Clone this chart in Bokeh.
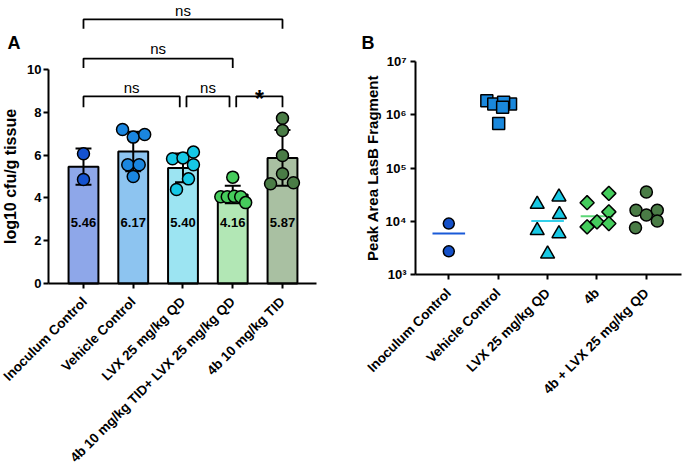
import numpy as np
from bokeh.plotting import figure
from bokeh.layouts import row
from bokeh.models import FixedTicker, Range1d
from bokeh.embed import file_html
from bokeh.resources import INLINE
from bokeh.core.properties import value

FONT = "Liberation Sans"

# ---------------- Panel A data ----------------
cats_a = ["Inoculum Control", "Vehicle Control", "LVX 25 mg/kg QD",
          "4b 10 mg/kg TID+ LVX 25 mg/kg QD", "4b 10 mg/kg TID"]
means_a = [5.46, 6.17, 5.40, 4.16, 5.87]
mean_labels_a = ["5.46", "6.17", "5.40", "4.16", "5.87"]
pts_inoc = [6.06, 4.86]
pts_veh = [7.20, 6.84, 6.96, 5.55, 5.55, 5.00]
pts_lvx = [5.83, 5.87, 6.14, 5.55, 4.89, 4.39]
pts_combo = [4.97, 4.05, 4.05, 4.08, 4.05, 3.78]
pts_4b = [7.72, 7.15, 5.98, 5.13, 4.66, 4.71]
groups_a = [pts_inoc, pts_veh, pts_lvx, pts_combo, pts_4b]
# horizontal scatter of the dots (fraction of category spacing)
jit_a = [[0, 0],
         [-0.215, 0, 0.23, -0.11, 0.12, 0],
         [-0.21, 0, 0.21, 0.21, 0.11, -0.13],
         [0, -0.24, -0.11, 0.03, 0.16, 0.26],
         [0, 0, 0, 0, -0.24, 0.22]]
bar_colors = ["#8ea7e9", "#8dc4f0", "#9ce4f2", "#b2e7b5", "#a9c0a2"]
dot_colors = ["#1452d0", "#1a86e0", "#16c8e6", "#46cc5c", "#4a7c46"]
# significance comparisons: (group i, group j, text)
comparisons = [(0, 4, "ns"), (0, 3, "ns"), (0, 2, "ns"), (2, 3, "ns"), (3, 4, "*")]
bracket_levels = [12.34, 10.51, 8.74, 8.74, 8.74]

# ---------------- Panel B data ----------------
cats_b = ["Inoculum Control", "Vehicle Control", "LVX 25 mg/kg QD", "4b",
          "4b + LVX 25 mg/kg QD"]
b_inoc = [9100, 2750]
b_veh = [1.82e6, 1.58e6, 1.58e6, 1.70e6, 1.38e6, 6.8e5]
b_lvx = [20900, 28800, 13500, 6760, 5890, 2450]
b_4b = [22400, 33500, 15100, 9800, 7900, 9100]
b_combo = [35500, 16200, 13200, 16200, 10200, 7600]
groups_b = [b_inoc, b_veh, b_lvx, b_4b, b_combo]
jit_b = [[0, 0],
         [-0.23, -0.09, 0.25, 0.11, 0.09, 0.01],
         [-0.21, 0.23, 0.24, -0.21, 0.23, 0],
         [-0.2, 0.24, 0.24, 0, -0.2, 0.24],
         [0, -0.21, 0, 0.22, 0.22, -0.22]]
markers_b = ["circle", "square", "triangle", "square", "circle"]
angles_b = [0, 0, 0, np.pi / 4, 0]
sizes_b = [11, 12, 14, 10, 12]
fill_b = ["#1450c8", "#1a88dc", "#18c8e4", "#44cc5c", "#4a7c46"]
line_b = ["#1a5ad8", "#1a88dc", "#34d0ea", "#5cd878", "#4a7c46"]
ticks_b = [1e3, 1e4, 1e5, 1e6, 1e7]
tick_labels_b = ["10³", "10⁴", "10⁵", "10⁶", "10⁷"]


def style_axes(p):
    for ax in (p.xaxis[0], p.yaxis[0]):
        ax.axis_line_width = 2
        ax.axis_line_color = "black"
        ax.major_tick_line_width = 2
        ax.major_tick_line_color = "black"
        ax.major_tick_out = 5
        ax.major_tick_in = 0
        ax.minor_tick_line_color = None
        ax.major_label_text_font = FONT
        ax.major_label_text_font_style = "bold"
        ax.major_label_text_font_size = "13px"
        ax.major_label_text_color = "black"
        ax.axis_label_text_font = FONT
        ax.axis_label_text_font_style = "bold"
        ax.axis_label_text_color = "black"
    p.xaxis.major_label_text_font_size = "13.5px"
    p.xaxis.major_label_orientation = np.pi / 4
    p.xaxis.major_label_standoff = 11
    p.xgrid.grid_line_color = None
    p.ygrid.grid_line_color = None
    p.outline_line_color = None


# ================= Panel A =================
# frame fills the whole canvas; axes sit at fixed data locations
pa = figure(width=341, height=470, output_backend="svg", toolbar_location=None,
            x_range=Range1d(-0.668, 6.186), y_range=Range1d(-8.738, 13.224),
            min_border_left=0, min_border_right=0, min_border_top=0,
            min_border_bottom=0)
style_axes(pa)
xs = list(range(1, 6))
pa.xaxis.ticker = FixedTicker(ticks=xs)
pa.xaxis.major_label_overrides = {i + 1: c for i, c in enumerate(cats_a)}
pa.xaxis.fixed_location = 0
pa.xaxis.bounds = (0.296, 5.68)
pa.yaxis.ticker = FixedTicker(ticks=[0, 2, 4, 6, 8, 10])
pa.yaxis.bounds = (0, 10)
pa.yaxis.fixed_location = 0.296
pa.yaxis.axis_label = "log10 cfu/g tissue"
pa.yaxis.axis_label_text_font_size = "16px"
pa.yaxis.axis_label_standoff = 5
pa.yaxis.major_label_standoff = 2

pa.vbar(x=xs, top=means_a, bottom=0, width=0.6, fill_color=bar_colors,
        line_color="black", line_width=2)

sds = [float(np.std(g, ddof=1)) for g in groups_a]
lo = [m - s for m, s in zip(means_a, sds)]
hi = [m + s for m, s in zip(means_a, sds)]
pa.segment(x0=xs, y0=lo, x1=xs, y1=hi, line_color="black", line_width=2)
pa.segment(x0=[x - 0.16 for x in xs], y0=hi, x1=[x + 0.16 for x in xs], y1=hi,
           line_color="black", line_width=2)
pa.segment(x0=[x - 0.16 for x in xs], y0=lo, x1=[x + 0.16 for x in xs], y1=lo,
           line_color="black", line_width=2)

for i, (g, j) in enumerate(zip(groups_a, jit_a)):
    pa.scatter(x=[i + 1 + d for d in j], y=g, size=12, marker="circle",
               fill_color=dot_colors[i], line_color="black", line_width=1.5)

pa.text(x=xs, y=[2.85] * 5, text=mean_labels_a, text_font=value(FONT),
        text_font_size="13px", text_font_style="bold", text_align="center",
        text_baseline="middle", text_color="black")

# brackets
bx, by, tx, ty, tt, tsz, tst = [], [], [], [], [], [], []
text_base = {12.34: 12.76, 10.51: 10.97, 8.74: 9.14}
for (i, j, lab), lev in zip(comparisons, bracket_levels):
    x1 = i + 1 + (0.07 if lev < 9 and i > 0 else 0)
    x2 = j + 1 - (0.065 if lev < 9 and j < 4 else 0)
    leg = 0.5 if lev < 9 else 0.44
    bx.append([x1, x1, x2, x2])
    by.append([lev - leg, lev, lev, lev - leg])
    tx.append((x1 + x2) / 2)
    if lab == "*":
        ty.append(8.64)
        tsz.append("23px")
        tst.append("bold")
    else:
        ty.append(text_base[lev])
        tsz.append("15px")
        tst.append("normal")
    tt.append(lab)
pa.multi_line(xs=bx, ys=by, line_color="black", line_width=1.8)
pa.text(x=tx, y=ty, text=tt, text_font=value(FONT), text_font_size=tsz,
        text_font_style=tst, text_align="center", text_baseline="alphabetic",
        text_color="black")

pa.text(x=[-0.527], y=[11.25], text=["A"], text_font=value(FONT),
        text_font_size="18px", text_font_style="bold", text_align="left",
        text_baseline="alphabetic", text_color="black")

# ================= Panel B =================
pb = figure(width=341, height=470, output_backend="svg", toolbar_location=None,
            x_range=Range1d(-1.172, 5.731),
            y_range=Range1d(10 ** -0.665, 10 ** 8.137), y_axis_type="log",
            min_border_left=0, min_border_right=0, min_border_top=0,
            min_border_bottom=0)
style_axes(pb)
pb.xaxis.ticker = FixedTicker(ticks=xs)
pb.xaxis.major_label_overrides = {i + 1: c for i, c in enumerate(cats_b)}
pb.xaxis.fixed_location = 1e3
pb.xaxis.bounds = (0.326, 5.71)
pb.yaxis.ticker = FixedTicker(ticks=ticks_b)
pb.yaxis.major_label_overrides = {t: l for t, l in zip(ticks_b, tick_labels_b)}
pb.yaxis.bounds = (1e3, 1e7)
pb.yaxis.fixed_location = 0.326
pb.yaxis.axis_label = "Peak Area LasB Fragment"
pb.yaxis.axis_label_text_font_size = "15px"
pb.yaxis.axis_label_standoff = 2
pb.yaxis.major_label_standoff = 4

for i, g in enumerate(groups_b):
    med = float(np.median(g))
    pb.segment(x0=[i + 1 - 0.33], y0=[med], x1=[i + 1 + 0.33], y1=[med],
               line_color=line_b[i], line_width=2)
for i, (g, j) in enumerate(zip(groups_b, jit_b)):
    pb.scatter(x=[i + 1 + d for d in j], y=g, size=sizes_b[i],
               marker=markers_b[i], angle=angles_b[i], fill_color=fill_b[i],
               line_color="black", line_width=1.5)

pb.text(x=[-0.767], y=[10 ** 7.35], text=["B"], text_font=value(FONT),
        text_font_size="18px", text_font_style="bold", text_align="left",
        text_baseline="alphabetic", text_color="black")

layout = row(pa, pb)
open("out.html", "w").write(file_html(layout, INLINE))
